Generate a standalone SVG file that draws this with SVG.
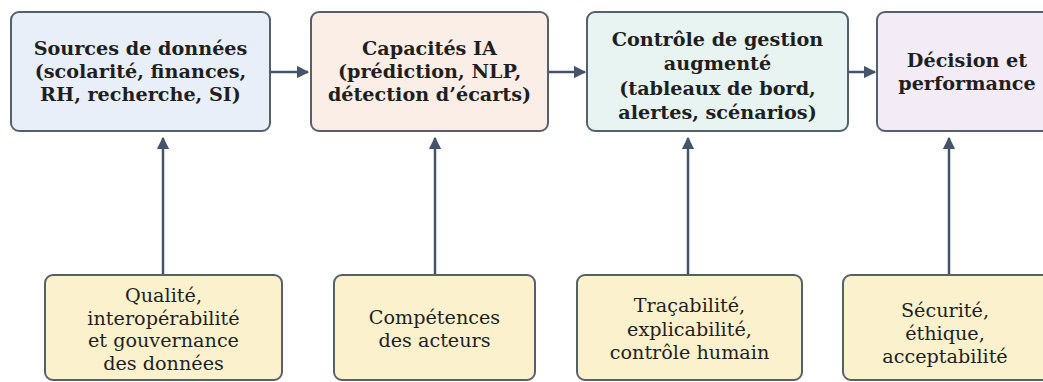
<svg xmlns="http://www.w3.org/2000/svg" width="1043" height="382" viewBox="0 0 1043 382">
<style>
.box{stroke:#56606d;stroke-width:2}
.t{font-family:"DejaVu Serif",serif;font-size:19.2px;fill:#1f1f1f;text-anchor:middle}
.b{font-weight:bold}
.c{stroke:#44546a;stroke-width:2.5;fill:none}
</style>
<defs>
<marker id="ah" viewBox="0 0 10 10" refX="9" refY="5" markerWidth="5" markerHeight="5" markerUnits="strokeWidth" orient="auto">
<path d="M0,0 L10,5 L0,10 z" fill="#44546a"/>
</marker>
</defs>
<rect width="1043" height="382" fill="#ffffff"/>
<g id="connectors">
<line class="c" x1="271" y1="72" x2="308" y2="72" marker-end="url(#ah)"/>
<line class="c" x1="549" y1="72" x2="585" y2="72" marker-end="url(#ah)"/>
<line class="c" x1="849" y1="72" x2="875" y2="72" marker-end="url(#ah)"/>
<line class="c" x1="163" y1="275" x2="163" y2="138" marker-end="url(#ah)"/>
<line class="c" x1="435" y1="275" x2="435" y2="138" marker-end="url(#ah)"/>
<line class="c" x1="688" y1="275" x2="688" y2="138" marker-end="url(#ah)"/>
<line class="c" x1="949" y1="275" x2="949" y2="138" marker-end="url(#ah)"/>
</g>
<g id="sources">
<rect class="box" x="11" y="12" width="259" height="119" rx="8" fill="#e9eff8"/>
<text class="t b" x="140.5" y="55">Sources de données</text>
<text class="t b" x="140.5" y="78">(scolarité, finances,</text>
<text class="t b" x="140.5" y="101">RH, recherche, SI)</text>
</g>
<g id="ia">
<rect class="box" x="311" y="12" width="237" height="119" rx="8" fill="#fbeee6"/>
<text class="t b" x="429.5" y="55">Capacités IA</text>
<text class="t b" x="429.5" y="78">(prédiction, NLP,</text>
<text class="t b" x="429.5" y="101">détection d’écarts)</text>
</g>
<g id="controle">
<rect class="box" x="587" y="12" width="261" height="119" rx="8" fill="#e7f4f2"/>
<text class="t b" x="717.5" y="46">Contrôle de gestion</text>
<text class="t b" x="717.5" y="70">augmenté</text>
<text class="t b" x="717.5" y="95">(tableaux de bord,</text>
<text class="t b" x="717.5" y="119">alertes, scénarios)</text>
</g>
<g id="decision">
<rect class="box" x="877" y="12" width="180" height="119" rx="8" fill="#f3ebf6"/>
<text class="t b" x="967" y="67">Décision et</text>
<text class="t b" x="967" y="90">performance</text>
</g>
<g id="qualite">
<rect class="box" x="45" y="275" width="237" height="105" rx="8" fill="#fbf1cd"/>
<text class="t" x="163.5" y="302">Qualité,</text>
<text class="t" x="163.5" y="325">interopérabilité</text>
<text class="t" x="163.5" y="347">et gouvernance</text>
<text class="t" x="163.5" y="370">des données</text>
</g>
<g id="competences">
<rect class="box" x="334" y="275" width="201" height="105" rx="8" fill="#fbf1cd"/>
<text class="t" x="434.5" y="324">Compétences</text>
<text class="t" x="434.5" y="347">des acteurs</text>
</g>
<g id="tracabilite">
<rect class="box" x="577" y="275" width="225" height="105" rx="8" fill="#fbf1cd"/>
<text class="t" x="689.5" y="312">Traçabilité,</text>
<text class="t" x="689.5" y="336">explicabilité,</text>
<text class="t" x="689.5" y="359">contrôle humain</text>
</g>
<g id="securite">
<rect class="box" x="843" y="275" width="210" height="105" rx="8" fill="#fbf1cd"/>
<text class="t" x="945" y="317">Sécurité,</text>
<text class="t" x="945" y="340">éthique,</text>
<text class="t" x="945" y="363">acceptabilité</text>
</g>
</svg>
